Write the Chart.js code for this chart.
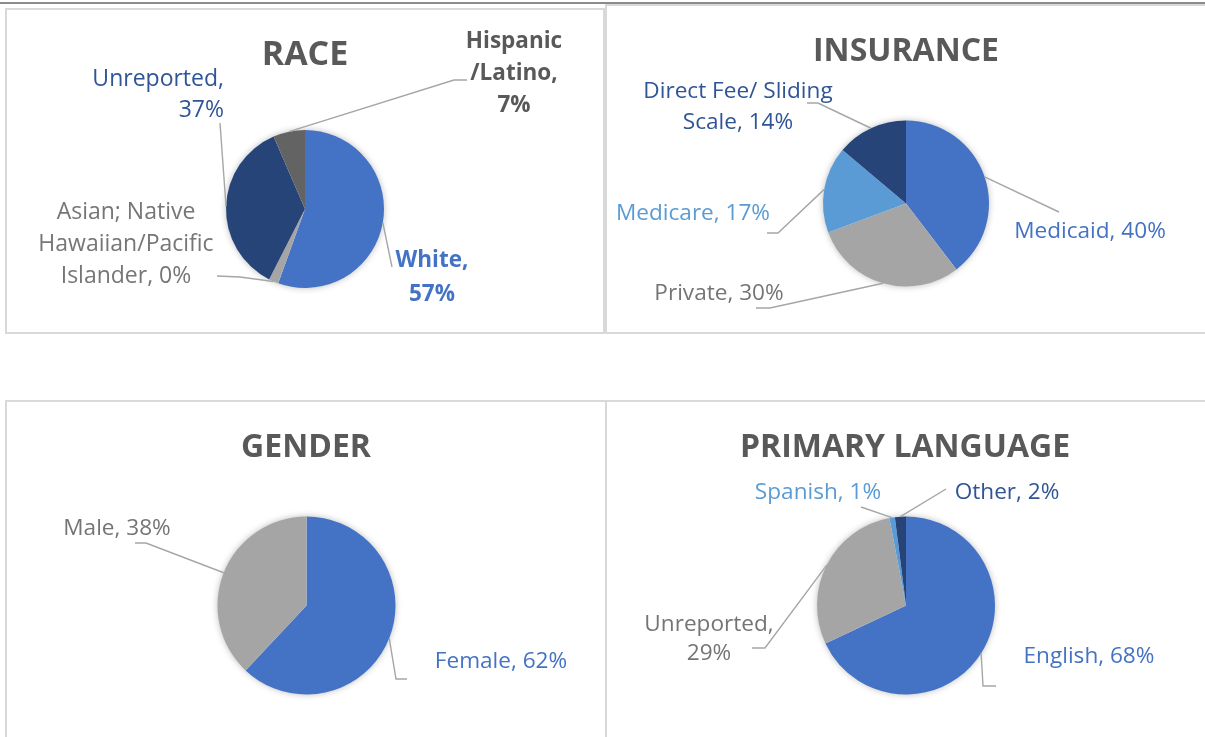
<!DOCTYPE html>
<html>
<head>
<meta charset="utf-8">
<script src="https://cdn.jsdelivr.net/npm/chart.js@4.4.1/dist/chart.umd.min.js"></script>
<style>
html,body{margin:0;padding:0;background:#fff;}
#wrap{position:relative;width:1205px;height:737px;overflow:hidden;background:#fff;}
.panel{position:absolute;box-sizing:border-box;border:2px solid #D9D9D9;}
canvas{position:absolute;left:0;top:0;}
</style>
</head>
<body>
<div id="wrap">
  <div style="position:absolute;left:0;top:2px;width:1205px;height:2px;background:#8C8C8C"></div>
  <div class="panel" style="left:5px;top:8px;width:600px;height:326px"></div>
  <div class="panel" style="left:605px;top:4px;width:610px;height:330px"></div>
  <div class="panel" style="left:5px;top:400px;width:602px;height:350px;border-right:none"></div>
  <div class="panel" style="left:605px;top:400px;width:610px;height:350px"></div>
  <canvas id="cRace" width="1205" height="737"></canvas>
  <canvas id="cIns" width="1205" height="737"></canvas>
  <canvas id="cGender" width="1205" height="737"></canvas>
  <canvas id="cLang" width="1205" height="737"></canvas>
</div>
<script>
// ---------- DATA ----------
const raceCategories = ['White', 'Asian; Native\nHawaiian/Pacific\nIslander', 'Unreported', 'Hispanic\n/Latino'];
const raceValues = [55.5, 2, 36, 6.5];
const racePct = ['57%', '0%', '37%', '7%'];

const insuranceCategories = ['Medicaid', 'Private', 'Medicare', 'Direct Fee/ Sliding\nScale'];
const insuranceValues = [40, 30, 17, 14];
const insurancePct = ['40%', '30%', '17%', '14%'];

const genderCategories = ['Female', 'Male'];
const genderValues = [62, 38];
const genderPct = ['62%', '38%'];

const languageCategories = ['English', 'Unreported', 'Spanish', 'Other'];
const languageValues = [68, 29, 1, 2];
const languagePct = ['68%', '29%', '1%', '2%'];

// ---------- STYLE ----------
const BLUE = '#4472C4', GRAY = '#A5A5A5', DARKBLUE = '#264478', LIGHTBLUE = '#5B9BD5', DARKGRAY = '#636363';
const FONT = '"Open Sans", "Noto Sans", sans-serif';

const pieLabelPlugin = {
  id: 'pieLabels',
  beforeDatasetsDraw(chart) {
    const meta = chart.getDatasetMeta(0);
    const a = meta.data[0];
    if (!a) return;
    const ctx = chart.ctx;
    ctx.save();
    ctx.shadowColor = 'rgba(0,0,0,0.30)';
    ctx.shadowBlur = 7;
    ctx.fillStyle = '#ffffff';
    ctx.beginPath();
    ctx.arc(a.x, a.y, a.outerRadius - 0.5, 0, Math.PI * 2);
    ctx.fill();
    ctx.restore();
  },
  afterDraw(chart) {
    const cfg = chart.options.plugins.pieLabels;
    const meta = chart.getDatasetMeta(0);
    const ctx = chart.ctx;
    meta.data.forEach((arc, i) => {
      const L = cfg.layout[i];
      const mid = (arc.startAngle + arc.endAngle) / 2;
      const sx = arc.x + Math.cos(mid) * arc.outerRadius;
      const sy = arc.y + Math.sin(mid) * arc.outerRadius;
      ctx.save();
      ctx.strokeStyle = '#A6A6A6';
      ctx.lineWidth = 1.4;
      ctx.beginPath();
      ctx.moveTo(sx, sy);
      L.path.forEach(p => ctx.lineTo(p[0], p[1]));
      ctx.stroke();
      const text = chart.data.labels[i] + ',' + L.sep + cfg.pct[i];
      const lines = text.split('\n');
      ctx.font = (L.bold ? 'bold ' : '') + (L.size || 22.6) + 'px ' + FONT;
      ctx.fillStyle = L.color;
      ctx.textAlign = L.align || 'center';
      ctx.textBaseline = 'alphabetic';
      lines.forEach((ln, k) => ctx.fillText(ln, L.x, L.y + k * (L.lh || 31)));
      ctx.restore();
    });
    const T = cfg.title;
    ctx.save();
    ctx.font = 'bold ' + (T.size || 32) + 'px ' + FONT;
    ctx.fillStyle = '#595959';
    ctx.textAlign = 'center';
    ctx.textBaseline = 'alphabetic';
    ctx.fillText(T.text, T.x, T.y);
    ctx.restore();
  }
};

function makePie(id, categories, values, pct, colors, geo, title, layout) {
  const W = 1205, H = 737, half = 100;
  new Chart(document.getElementById(id), {
    type: 'pie',
    data: {
      labels: categories,
      datasets: [{ data: values, backgroundColor: colors, borderWidth: 0, hoverOffset: 0 }]
    },
    options: {
      responsive: false,
      animation: false,
      events: [],
      radius: geo.r,
      layout: { padding: { left: geo.cx - half, right: W - geo.cx - half, top: geo.cy - half, bottom: H - geo.cy - half } },
      plugins: {
        legend: { display: false },
        tooltip: { enabled: false },
        pieLabels: { pct: pct, title: title, layout: layout }
      }
    },
    plugins: [pieLabelPlugin]
  });
}

makePie('cRace', raceCategories, raceValues, racePct, [BLUE, GRAY, DARKBLUE, DARKGRAY],
  { cx: 305, cy: 209, r: 79 },
  { text: 'RACE', x: 305, y: 65, size: 34 },
  [
    { x: 432, y: 267, sep: '\n', bold: true, color: BLUE, lh: 34, size: 22.5, path: [[392, 267]] },
    { x: 126, y: 219, sep: ' ', color: '#767676', lh: 32, size: 23, path: [[240, 277], [217, 276]] },
    { x: 224, y: 86, sep: '\n', align: 'right', color: '#2F5597', lh: 31, size: 23, path: [[220, 123]] },
    { x: 514, y: 48, sep: '\n', bold: true, color: '#595959', lh: 32, size: 22.5, path: [[454, 80], [467, 80]] }
  ]);

makePie('cIns', insuranceCategories, insuranceValues, insurancePct, [BLUE, GRAY, LIGHTBLUE, DARKBLUE],
  { cx: 906, cy: 203.5, r: 83 },
  { text: 'INSURANCE', x: 906, y: 61 },
  [
    { x: 1090, y: 238, sep: ' ', color: BLUE, path: [[1059, 212]] },
    { x: 719, y: 300, sep: ' ', color: '#757575', path: [[770, 308], [756, 308]] },
    { x: 693, y: 220, sep: ' ', color: LIGHTBLUE, path: [[778, 233], [767, 233]] },
    { x: 738, y: 98, sep: ' ', color: '#2F5597', lh: 31, path: [[818, 103], [807, 103]] }
  ]);

makePie('cGender', genderCategories, genderValues, genderPct, [BLUE, GRAY],
  { cx: 306.5, cy: 605.5, r: 89 },
  { text: 'GENDER', x: 306, y: 457 },
  [
    { x: 501, y: 668, sep: ' ', color: BLUE, path: [[396, 679], [407, 679]] },
    { x: 117, y: 535, sep: ' ', color: '#757575', path: [[146, 543], [135, 543]] }
  ]);

makePie('cLang', languageCategories, languageValues, languagePct, [BLUE, GRAY, LIGHTBLUE, DARKBLUE],
  { cx: 906, cy: 605.5, r: 89 },
  { text: 'PRIMARY LANGUAGE', x: 905, y: 457 },
  [
    { x: 1089, y: 663, sep: ' ', color: BLUE, path: [[983, 686], [996, 686]] },
    { x: 709, y: 631, sep: '\n', color: '#757575', lh: 29, path: [[765, 648], [752, 648]] },
    { x: 818, y: 499, sep: ' ', color: LIGHTBLUE, path: [[861, 507]] },
    { x: 1007, y: 499, sep: ' ', color: '#2F5597', path: [[946, 489]] }
  ]);
</script>
</body>
</html>
